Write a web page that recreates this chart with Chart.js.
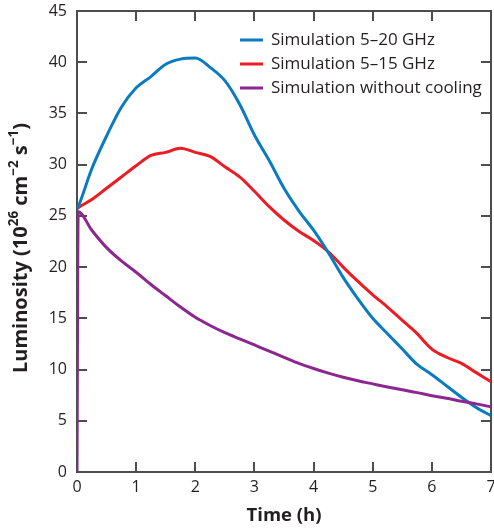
<!DOCTYPE html>
<html>
<head>
<meta charset="utf-8">
<title>Luminosity vs time</title>
<script src="https://cdn.jsdelivr.net/npm/chart.js@4.4.1/dist/chart.umd.min.js"></script>
<style>
  html, body { margin: 0; padding: 0; background: #fff; }
  #wrap { width: 494px; height: 530px; }
</style>
</head>
<body>
<div id="wrap"><canvas id="lum"></canvas></div>
<script>
// Values (time in hours, luminosity in 1e26 cm^-2 s^-1)

const hours = [0, 0.02, 0.25, 0.5, 0.75, 1, 1.25, 1.5, 1.75, 2, 2.25, 2.5, 2.75, 3, 3.25,
  3.5, 3.75, 4, 4.25, 4.5, 4.75, 5, 5.25, 5.5, 5.75, 6, 6.25, 6.5, 6.75, 7];

const sim5to20 = [25.7, 25.9, 29.6, 32.8, 35.6, 37.5, 38.6, 39.8, 40.3, 40.4, 39.5, 38.2, 35.9, 32.9, 30.4,
  27.7, 25.5, 23.6, 21.4, 19.0, 16.9, 15.0, 13.5, 12.0, 10.5, 9.5, 8.4, 7.3, 6.3, 5.5];

const sim5to15 = [25.7, 25.8, 26.6, 27.7, 28.8, 29.9, 30.9, 31.2, 31.6, 31.2, 30.8, 29.8, 28.8, 27.4, 25.9,
  24.6, 23.5, 22.6, 21.5, 20.0, 18.6, 17.3, 16.1, 14.8, 13.5, 12.0, 11.2, 10.6, 9.7, 8.8];

const noCooling = [0, 25.4, 23.6, 21.9, 20.6, 19.5, 18.3, 17.2, 16.1, 15.1, 14.3, 13.6, 13.0, 12.4, 11.8,
  11.2, 10.6, 10.1, 9.65, 9.25, 8.9, 8.6, 8.3, 8.02, 7.75, 7.45, 7.2, 6.9, 6.65, 6.35];

const seriesLabels = ["Simulation 5\u201320 GHz", "Simulation 5\u201315 GHz", "Simulation without cooling"];
const seriesColors = ["#0b7bc1", "#ec1c24", "#8b278f"];

const xRange = [0, 7];
const yRange = [0, 45];

const FONT = '"Open Sans", "Noto Sans", sans-serif';
const INK = "#231f20";
const AXIS = "#4d4d4d";

function toPoints(ys) {
  return hours.map((h, i) => ({ x: h, y: ys[i] }));
}

// y title with real superscripts
function drawYTitle(ctx) {
  const parts = [
    ["Luminosity (10", false], ["26", true], [" cm", false], ["\u22122", true],
    [" s", false], ["\u22121", true], [")", false]
  ];
  const big = "bold 20px " + FONT;
  const small = "bold 13.5px " + FONT;
  let total = 0;
  parts.forEach(([txt, sup]) => {
    ctx.font = sup ? small : big;
    total += ctx.measureText(txt).width;
  });
  ctx.save();
  ctx.translate(21, 248);
  ctx.rotate(-Math.PI / 2);
  ctx.fillStyle = INK;
  ctx.textBaseline = "middle";
  let x = -total / 2;
  parts.forEach(([txt, sup]) => {
    ctx.font = sup ? small : big;
    ctx.fillText(txt, x, sup ? -7 : 0);
    x += ctx.measureText(txt).width;
  });
  ctx.restore();
}

// box frame with inward ticks, filled under the curves
function drawFrame(chart) {
  const { ctx, chartArea: a, scales } = chart;
  const len = 10;
  const w = 2;
  const L = Math.round(a.left), R = Math.round(a.right);
  const T = Math.round(a.top), B = Math.round(a.bottom);
  ctx.save();
  ctx.globalCompositeOperation = "destination-over";
  ctx.fillStyle = AXIS;
  ctx.fillRect(L - 1, T - 1, R - L + 2, w);
  ctx.fillRect(L - 1, B - 1, R - L + 2, w);
  ctx.fillRect(L - 1, T - 1, w, B - T + 2);
  ctx.fillRect(R - 1, T - 1, w, B - T + 2);
  scales.x.ticks.forEach(t => {
    const px = Math.round(scales.x.getPixelForValue(t.value));
    ctx.fillRect(px - 1, B - len, w, len);
    ctx.fillRect(px - 1, T, w, len);
  });
  scales.y.ticks.forEach(t => {
    const py = Math.round(scales.y.getPixelForValue(t.value));
    ctx.fillRect(L, py - 1, len, w);
    ctx.fillRect(R - len, py - 1, len, w);
  });
  ctx.restore();
}

function drawLegend(chart) {
  const { ctx, chartArea: a } = chart;
  ctx.save();
  ctx.font = "17px " + FONT;
  ctx.textBaseline = "middle";
  chart.data.datasets.forEach((ds, i) => {
    const ly = a.top + 29 + i * 24;
    const lx = a.left + 163;
    ctx.strokeStyle = ds.borderColor;
    ctx.lineWidth = 3;
    ctx.beginPath();
    ctx.moveTo(lx, ly);
    ctx.lineTo(lx + 23, ly);
    ctx.stroke();
    ctx.fillStyle = INK;
    ctx.fillText(ds.label, lx + 31, ly);
  });
  ctx.restore();
}

const decorations = {
  id: "decorations",
  afterDraw(chart) {
    drawFrame(chart);
    drawYTitle(chart.ctx);
    drawLegend(chart);
  }
};

const datasets = [sim5to20, sim5to15, noCooling].map((ys, i) => ({
  label: seriesLabels[i],
  data: toPoints(ys),
  borderColor: seriesColors[i],
  borderWidth: 3,
  pointRadius: 0,
  cubicInterpolationMode: "monotone",
  // purple drawn on top, as in the figure
  order: i === 2 ? 0 : i + 1
}));

const tickFont = { family: FONT, size: 16 };

new Chart(document.getElementById("lum"), {
  type: "line",
  data: { datasets },
  options: {
    responsive: true,
    maintainAspectRatio: false,
    animation: false,
    layout: { padding: { top: 11, right: 3, left: 0, bottom: 0 } },
    plugins: {
      legend: { display: false },
      tooltip: { enabled: false }
    },
    scales: {
      x: {
        type: "linear",
        min: xRange[0],
        max: xRange[1],
        grid: { display: false, drawTicks: false },
        border: { display: false },
        ticks: { stepSize: 1, padding: 6, color: INK, font: tickFont },
        title: {
          display: true,
          text: "Time (h)",
          color: INK,
          font: { family: FONT, size: 18.5, weight: "bold" },
          padding: { top: 0, bottom: 3 }
        },
        afterFit(scale) {
          scale.height = 58;
          scale.paddingLeft = 0;
          scale.paddingRight = 0;
        }
      },
      y: {
        min: yRange[0],
        max: yRange[1],
        grid: { display: false, drawTicks: false },
        border: { display: false },
        ticks: { stepSize: 5, padding: 10, color: INK, font: tickFont },
        afterFit(scale) {
          scale.width = 77;
          scale.paddingTop = 0;
          scale.paddingBottom = 0;
        }
      }
    }
  },
  plugins: [decorations]
});
</script>
</body>
</html>
